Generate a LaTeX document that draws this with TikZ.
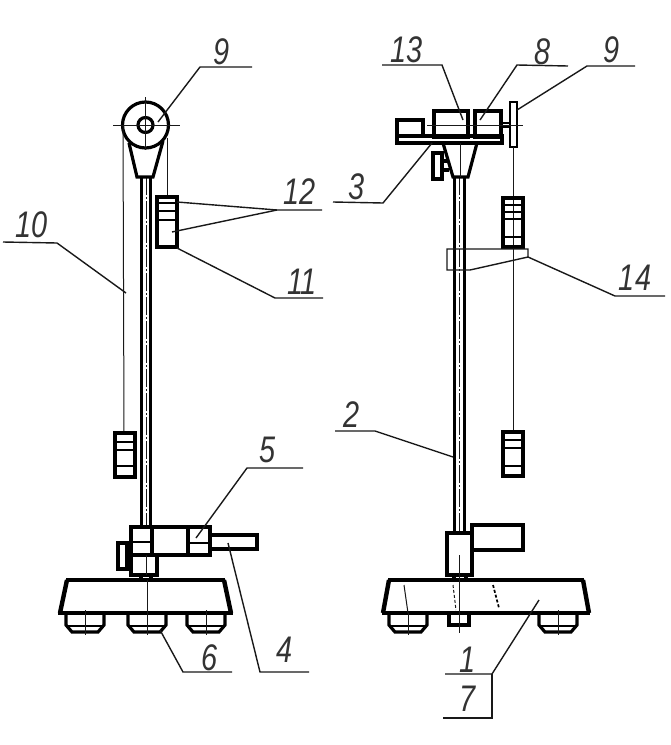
\documentclass[tikz,border=0pt]{standalone}
\usepackage{fontspec}
\newfontfamily\numfont[FakeStretch=0.78]{Liberation Sans Italic}
\tikzset{
	heavy/.style={line width=3.2pt, color=black, line join=miter},
	medium/.style={line width=1.7pt, color=black},
	hair/.style={line width=1pt, color=black!90},
	leader/.style={line width=1.4pt, color=black!90},
	callout/.style={font=\numfont\fontsize{37}{37}\selectfont, color=black!80, inner sep=0pt}
}
\def\footshape(#1,#2){\draw[heavy] (#1-19, 613) -- (#1-19, 625) -- (#1-13, 632) -- (#1+13, 632) -- (#1+19, 625) -- (#1+19, 613);
	\draw[medium] (#1-17, 626) -- (#1+17, 626);
	\draw[hair] (#1, #2) -- (#1, 635);}
\def\columnrod(#1,#2,#3){\draw[heavy] (#1-4.7, #2) -- (#1-4.7, #3);
	\draw[heavy] (#1+4.7, #2) -- (#1+4.7, #3);
	\draw[hair, dash pattern=on 18pt off 2pt on 2pt off 2pt] (#1, #2) -- (#1, #3);}
\begin{document}
\begin{tikzpicture}[x=1pt, y=-1pt]
	\useasboundingbox (0, 0) rectangle (671, 745);
	%%%%% LEFT VIEW %%%%%
	
	\columnrod(146,177,528)
	
	\draw[heavy] (145.5, 125) circle (23);
	\draw[heavy] (145.5, 125) circle (7.5);
	\draw[hair] (113, 125) -- (180, 125);
	\draw[hair] (145.5, 97) -- (145.5, 150);
	\draw[heavy] (129, 143) -- (137, 177) -- (153, 177) -- (163, 141);
	
	\draw[hair] (123, 125) -- (124, 433);
	\draw[hair] (167, 138) -- (167, 197);
	
	\draw[heavy] (157, 197) rectangle (177, 247);
	\draw[medium] (157, 203) -- (177, 203);
	\draw[medium] (157, 211) -- (177, 211);
	\draw[medium] (157, 220) -- (177, 220);
	
	\draw[heavy] (115, 433) rectangle (135, 477);
	\draw[medium] (115, 442) -- (135, 442);
	\draw[medium] (115, 450) -- (135, 450);
	\draw[medium] (115, 466) -- (135, 466);
	
	\draw[heavy] (131, 527) rectangle (210, 555);
	\draw[heavy] (152, 527) -- (152, 555);
	\draw[heavy] (188, 527) -- (188, 555);
	\draw[medium] (131, 542) -- (152, 542);
	\draw[medium] (188, 543) -- (210, 543);
	\draw[heavy] (131, 555) rectangle (157, 575);
	\draw[hair] (146, 555) -- (146, 575);
	\draw[heavy] (118, 543) rectangle (127, 569);
	\draw[heavy] (127, 552) -- (131, 552);
	\draw[heavy] (127, 562) -- (131, 562);
	\draw[heavy] (210, 535) rectangle (257, 549);
	\draw[heavy] (141, 575) -- (141, 580);
	\draw[heavy] (151, 575) -- (151, 580);
	
	\draw[heavy] (58, 613) -- (233, 613);
	\draw[heavy] (66, 580) -- (225, 580);
	\draw[line width=4.4pt] (67, 580) -- (60, 613);
	\draw[line width=4.4pt] (224, 580) -- (231, 613);
	\draw[hair] (147, 580) -- (147, 613);
	\footshape(85,610)
	\footshape(147,613)
	\footshape(206,610)
	
	%%%%% RIGHT VIEW %%%%%
	
	\columnrod(459.5,177,533)
	
	\draw[heavy] (434, 111) rectangle (468, 137);
	\draw[heavy] (475, 111) rectangle (501, 137);
	\draw[heavy] (397, 120) rectangle (423, 136);
	\draw[heavy] (397, 136) rectangle (502, 143);
	\draw[medium] (501, 123) -- (510, 123);
	\draw[medium] (501, 127) -- (510, 127);
	\draw[medium] (510, 102) rectangle (517, 147);
	\draw[hair] (427, 125) -- (523, 125);
	
	\draw[heavy] (443, 143) -- (453, 177) -- (468, 177) -- (477, 143);
	\draw[hair] (460, 143) -- (460, 177);
	\draw[heavy] (433, 153) rectangle (442, 179);
	\draw[heavy] (442, 161) -- (447, 161);
	\draw[heavy] (442, 170) -- (449, 170);
	
	\draw[hair] (513, 147) -- (513, 432);
	\draw[heavy] (503, 198) rectangle (523, 247);
	\draw[medium] (503, 205) -- (523, 205);
	\draw[medium] (503, 212) -- (523, 212);
	\draw[medium] (503, 219) -- (523, 219);
	\draw[medium] (503, 237) -- (523, 237);
	\draw[heavy] (503, 432) rectangle (523, 476);
	\draw[medium] (503, 440) -- (523, 440);
	\draw[medium] (503, 448) -- (523, 448);
	\draw[medium] (503, 466) -- (523, 466);
	
	\draw[leader] (528, 257) -- (528, 249) -- (447, 249) -- (447, 270) -- (470, 270) -- cycle;
	
	\draw[heavy] (447, 533) rectangle (472, 575);
	\draw[heavy] (472, 525) rectangle (523, 550);
	\draw[heavy] (454, 575) -- (454, 580);
	\draw[heavy] (466, 575) -- (466, 580);
	
	\draw[heavy] (382, 613) -- (590, 613);
	\draw[heavy] (388, 580) -- (584, 580);
	\draw[line width=4.4pt] (389, 580) -- (383, 613);
	\draw[line width=4.4pt] (583, 580) -- (589, 613);
	\draw[hair] (404, 585) -- (408, 613);
	\draw[hair, densely dashed] (453, 585) -- (456, 610);
	\draw[medium, densely dashed] (493, 585) -- (499, 608);
	\footshape(408,613)
	\footshape(558,610)
	\draw[heavy] (449, 613) rectangle (469, 625);
	\draw[hair] (459.5, 555) -- (459.5, 633);
	
	%%%%% CALLOUTS %%%%%
	
	\node[callout] (nine) at (222, 52) {9};
	\draw[leader] (158, 122) -- (200, 67) -- (252, 67);
	
	\node[callout] (twelve) at (300, 192) {12};
	\draw[leader] (177, 202) -- (277, 210) -- (322, 210);
	\draw[leader] (172, 232) -- (277, 210);
	
	\node[callout] (eleven) at (302, 282) {11};
	\draw[leader] (177, 248) -- (275, 298) -- (323, 298);
	
	\node[callout] (ten) at (32, 225) {10};
	\draw[leader] (3, 242) -- (57, 243) -- (126, 293);
	
	\node[callout] (five) at (268, 450) {5};
	\draw[leader] (196, 538) -- (247, 468) -- (303, 468);
	
	\node[callout] (six) at (210, 658) {6};
	\draw[leader] (160, 630) -- (183, 672) -- (232, 672);
	
	\node[callout] (four) at (285, 650) {4};
	\draw[leader] (228, 543) -- (260, 672) -- (309, 672);
	
	\node[callout] (thirteen) at (407, 50) {13};
	\draw[leader] (382, 65) -- (442, 65) -- (463, 120);
	
	\node[callout] (eight) at (543, 52) {8};
	\draw[leader] (480, 120) -- (517, 65) -- (568, 66);
	
	\node[callout] (ninetwo) at (612, 50) {9};
	\draw[leader] (517, 110) -- (587, 66) -- (635, 66);
	
	\node[callout] (three) at (357, 187) {3};
	\draw[leader] (432, 143) -- (383, 203) -- (333, 202);
	
	\node[callout] (fourteen) at (635, 278) {14};
	\draw[leader] (528, 257) -- (615, 296) -- (665, 296);
	
	\node[callout] (two) at (352, 415) {2};
	\draw[leader] (335, 431) -- (375, 431) -- (453, 457);
	
	\node[callout] (one) at (468, 660) {1};
	\node[callout] (seven) at (468, 699) {7};
	\draw[leader] (539, 600) -- (492, 674) -- (445, 674);
	\draw[leader] (492, 674) -- (492, 718) -- (443, 718);
	
	%%%%% END %%%%%
\end{tikzpicture}
\end{document}
